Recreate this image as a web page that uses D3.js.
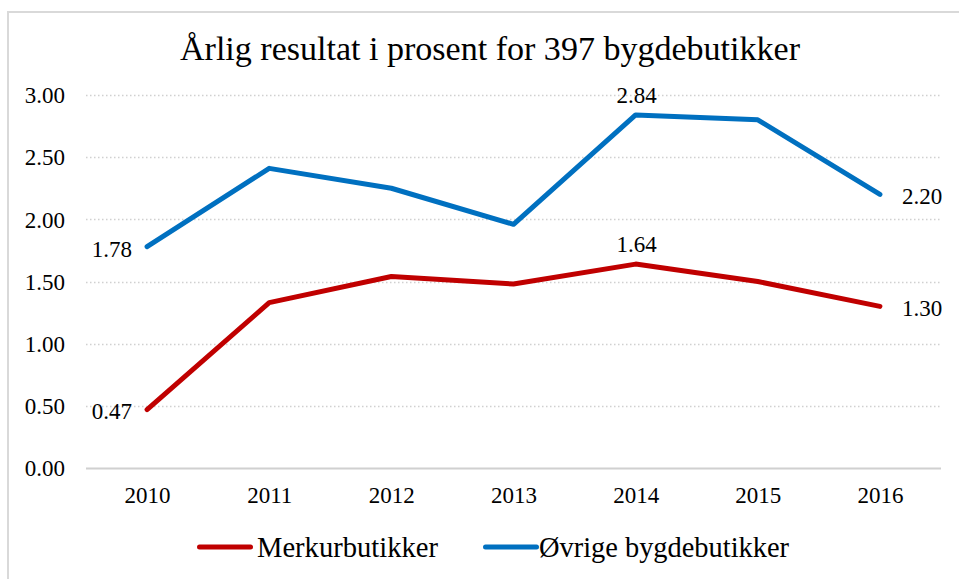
<!DOCTYPE html>
<html>
<head>
<meta charset="utf-8">
<script src="https://cdn.jsdelivr.net/npm/d3@7"></script>
<style>
  html, body { margin: 0; padding: 0; background: #fff; }
  svg { display: block; }
  text { font-family: "Liberation Serif", "DejaVu Serif", serif; fill: #000; }
</style>
</head>
<body>
<svg id="chart" width="959" height="579"></svg>
<script>
// Årlig resultat i prosent, 2010–2016
const years = ["2010", "2011", "2012", "2013", "2014", "2015", "2016"];
const merkur = [0.47, 1.33, 1.54, 1.48, 1.64, 1.50, 1.30];
const ovrige = [1.78, 2.41, 2.25, 1.96, 2.84, 2.80, 2.20];
const yTicks = [0, 0.5, 1, 1.5, 2, 2.5, 3];
const seriesNames = ["Merkurbutikker", "Øvrige bygdebutikker"];
const seriesColors = ["#C00000", "#0070C0"];

const svg = d3.select("#chart");

// frame
svg.append("path")
  .attr("d", "M8,579 V12 H959")
  .attr("fill", "none")
  .attr("stroke", "#d9d9d9")
  .attr("stroke-width", 2);

// title
svg.append("text")
  .attr("x", 180).attr("y", 60)
  .attr("font-size", 33)
  .attr("textLength", 620)
  .attr("lengthAdjust", "spacingAndGlyphs")
  .text("Årlig resultat i prosent for 397 bygdebutikker");

const x = d3.scalePoint().domain(years).range([86, 941]).padding(0.5);
const y = d3.scaleLinear().domain([0, 3]).range([468, 95]);

// gridlines
const grid = svg.append("g");
grid.selectAll("line").data(yTicks).join("line")
  .attr("x1", 86).attr("x2", 941)
  .attr("y1", d => Math.round(y(d)) + 0.5).attr("y2", d => Math.round(y(d)) + 0.5)
  .attr("stroke", "#d0d0d0")
  .attr("stroke-width", d => d === 0 ? 2 : 1.3)
  .attr("stroke-dasharray", d => d === 0 ? null : "1.5,2.5");

// y axis labels
const yAxis = d3.axisLeft(y).tickValues(yTicks).tickFormat(d3.format(".2f")).tickSize(0).tickPadding(0);
svg.append("g").attr("transform", "translate(65,0)").call(yAxis)
  .call(g => g.select(".domain").remove())
  .call(g => g.selectAll("text").attr("font-size", 23).attr("font-family", null).attr("fill", "#000").attr("dy", "0.34em"));

// x axis labels
const xAxis = d3.axisBottom(x).tickSize(0).tickPadding(0);
svg.append("g").attr("transform", "translate(0,487)").call(xAxis)
  .call(g => g.select(".domain").remove())
  .call(g => g.selectAll("text").attr("font-size", 23).attr("font-family", null).attr("fill", "#000").attr("dy", "0.7em"));

// lines
const line = d3.line().x((d, i) => x(years[i])).y(d => y(d));
[merkur, ovrige].forEach((vals, k) => {
  svg.append("path")
    .datum(vals)
    .attr("d", line)
    .attr("fill", "none")
    .attr("stroke", seriesColors[k])
    .attr("stroke-width", 5)
    .attr("stroke-linecap", "round")
    .attr("stroke-linejoin", "round");
});

// data labels: first, peak, last
const fmt = d3.format(".2f");
const labels = [
  { v: merkur, i: 0, pos: "left" },
  { v: merkur, i: 4, pos: "above" },
  { v: merkur, i: 6, pos: "right" },
  { v: ovrige, i: 0, pos: "left" },
  { v: ovrige, i: 4, pos: "above" },
  { v: ovrige, i: 6, pos: "right" }
];
svg.append("g").selectAll("text").data(labels).join("text")
  .attr("font-size", 23)
  .attr("x", d => {
    const px = x(years[d.i]);
    return d.pos === "left" ? px - 15 : d.pos === "right" ? px + 22 : px + 1;
  })
  .attr("y", d => {
    const py = y(d.v[d.i]);
    return d.pos === "above" ? py - 20 : py + 2;
  })
  .attr("dy", "0.34em")
  .attr("text-anchor", d => d.pos === "left" ? "end" : d.pos === "right" ? "start" : "middle")
  .text(d => fmt(d.v[d.i]));

// legend
const legendItems = [
  { name: seriesNames[0], color: seriesColors[0], x0: 197, tx: 257, tw: 181 },
  { name: seriesNames[1], color: seriesColors[1], x0: 483, tx: 539, tw: 250 }
];
const lg = svg.append("g");
legendItems.forEach(it => {
  lg.append("line")
    .attr("x1", it.x0 + 2.5).attr("x2", it.x0 + 53.5)
    .attr("y1", 547).attr("y2", 547)
    .attr("stroke", it.color).attr("stroke-width", 5).attr("stroke-linecap", "round");
  lg.append("text")
    .attr("x", it.tx).attr("y", 547).attr("dy", "0.34em")
    .attr("font-size", 29)
    .attr("textLength", it.tw)
    .attr("lengthAdjust", "spacingAndGlyphs")
    .text(it.name);
});
</script>
</body>
</html>
